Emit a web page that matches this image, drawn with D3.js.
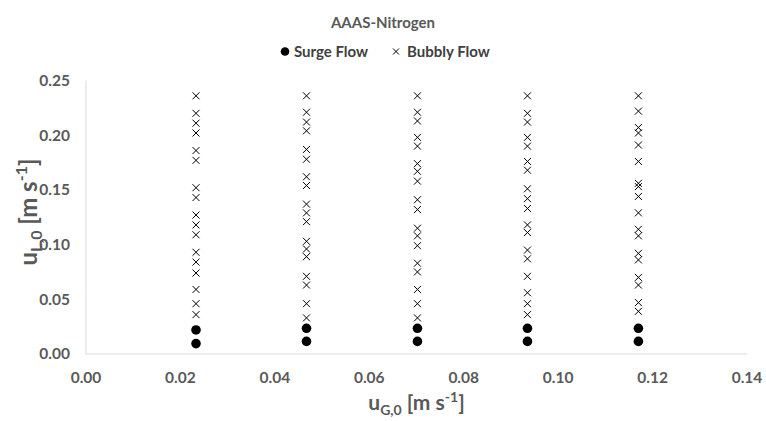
<!DOCTYPE html>
<html>
<head>
<meta charset="UTF-8" />
<title>AAAS-Nitrogen</title>
<script src="https://d3js.org/d3.v7.min.js"></script>
<style>
  body { margin: 0; background: #fff; }
  svg { display: block; font-family: "Lato", "Open Sans", sans-serif; }
</style>
</head>
<body>
<svg id="chart"></svg>
<script>
  // gas superficial velocity of each column [m/s]
  const ugCols = [0.0233, 0.0467, 0.0702, 0.0935, 0.117];

  // surge flow points (liquid velocity) per column
  const surge1 = [0.022, 0.0095];
  const surge2 = [0.0235, 0.0115];
  const surge3 = [0.0235, 0.0115];
  const surge4 = [0.0235, 0.0115];
  const surge5 = [0.0235, 0.0115];

  // bubbly flow points per column
  const bubbly1 = [0.236, 0.220, 0.211, 0.202, 0.186, 0.177, 0.152, 0.143, 0.127, 0.118, 0.109, 0.093, 0.084, 0.074, 0.059, 0.046, 0.036];
  const bubbly2 = [0.236, 0.221, 0.212, 0.204, 0.187, 0.178, 0.162, 0.154, 0.137, 0.129, 0.121, 0.103, 0.096, 0.089, 0.071, 0.063, 0.046, 0.033];
  const bubbly3 = [0.236, 0.221, 0.213, 0.198, 0.190, 0.174, 0.167, 0.158, 0.141, 0.132, 0.115, 0.108, 0.099, 0.083, 0.075, 0.059, 0.046, 0.033];
  const bubbly4 = [0.236, 0.220, 0.212, 0.198, 0.190, 0.176, 0.168, 0.151, 0.142, 0.133, 0.118, 0.111, 0.095, 0.087, 0.071, 0.056, 0.046, 0.036];
  const bubbly5 = [0.236, 0.222, 0.207, 0.202, 0.191, 0.176, 0.156, 0.153, 0.144, 0.129, 0.114, 0.108, 0.092, 0.086, 0.070, 0.063, 0.047, 0.039];

  const xTicks = [0, 0.02, 0.04, 0.06, 0.08, 0.10, 0.12, 0.14];
  const yTicks = [0, 0.05, 0.10, 0.15, 0.20, 0.25];

  const surgeSets = [surge1, surge2, surge3, surge4, surge5];
  const bubblySets = [bubbly1, bubbly2, bubbly3, bubbly4, bubbly5];

  const surgePts = [];
  surgeSets.forEach((s, i) => s.forEach(v => surgePts.push({ x: ugCols[i], y: v })));
  const bubblyPts = [];
  bubblySets.forEach((s, i) => s.forEach(v => bubblyPts.push({ x: ugCols[i], y: v })));

  const width = 766, height = 421;
  const margin = { top: 80.5, right: 19, bottom: 67, left: 86 };

  const svg = d3.select("#chart")
    .attr("width", width)
    .attr("height", height);

  const x = d3.scaleLinear().domain([0, 0.14]).range([margin.left, width - margin.right]);
  const y = d3.scaleLinear().domain([0, 0.25]).range([height - margin.bottom, margin.top]);

  // axes lines
  svg.append("line")
    .attr("x1", x(0)).attr("x2", x(0.14))
    .attr("y1", y(0)).attr("y2", y(0))
    .attr("stroke", "#d9d9d9").attr("stroke-width", 1);
  svg.append("line")
    .attr("x1", x(0)).attr("x2", x(0))
    .attr("y1", y(0)).attr("y2", y(0.25))
    .attr("stroke", "#d9d9d9").attr("stroke-width", 1);

  // tick labels
  svg.append("g").selectAll("text")
    .data(xTicks)
    .enter().append("text")
    .attr("x", d => x(d))
    .attr("y", y(0) + 29)
    .attr("text-anchor", "middle")
    .attr("font-size", 15.5)
    .attr("font-weight", 700)
    .attr("fill", "#595959")
    .text(d => d3.format(".2f")(d));

  svg.append("g").selectAll("text")
    .data(yTicks)
    .enter().append("text")
    .attr("x", x(0) - 16)
    .attr("y", d => y(d))
    .attr("dy", "0.35em")
    .attr("text-anchor", "end")
    .attr("font-size", 15.5)
    .attr("font-weight", 700)
    .attr("fill", "#595959")
    .text(d => d3.format(".2f")(d));

  // markers
  const crossPath = "M-3.5,-3.5L3.5,3.5M-3.5,3.5L3.5,-3.5";

  svg.append("g").selectAll("path")
    .data(bubblyPts)
    .enter().append("path")
    .attr("d", crossPath)
    .attr("transform", d => `translate(${x(d.x)},${y(d.y)})`)
    .attr("stroke", "#000")
    .attr("stroke-width", 1)
    .attr("fill", "none");

  svg.append("g").selectAll("circle")
    .data(surgePts)
    .enter().append("circle")
    .attr("cx", d => x(d.x))
    .attr("cy", d => y(d.y))
    .attr("r", 4.8)
    .attr("fill", "#000");

  // title
  svg.append("text")
    .attr("x", width / 2)
    .attr("y", 28)
    .attr("text-anchor", "middle")
    .attr("font-size", 15)
    .attr("font-weight", 700)
    .attr("fill", "#595959")
    .text("AAAS-Nitrogen");

  // legend
  const legend = svg.append("g").attr("transform", "translate(0,51.5)");
  legend.append("circle").attr("cx", 285).attr("cy", 0).attr("r", 4.3).attr("fill", "#000");
  legend.append("text").attr("x", 294).attr("y", 5)
    .attr("font-size", 15).attr("font-weight", 700).attr("fill", "#404040")
    .text("Surge Flow");
  legend.append("path").attr("d", "M-3,-3L3,3M-3,3L3,-3")
    .attr("transform", "translate(396,0)")
    .attr("stroke", "#000").attr("stroke-width", 1);
  legend.append("text").attr("x", 407).attr("y", 5)
    .attr("font-size", 15).attr("font-weight", 700).attr("fill", "#404040")
    .text("Bubbly Flow");

  // x axis title
  const xt = svg.append("text")
    .attr("x", (x(0) + x(0.14)) / 2)
    .attr("y", 410)
    .attr("text-anchor", "middle")
    .attr("font-size", 21)
    .attr("font-weight", 700)
    .attr("fill", "#595959");
  xt.append("tspan").text("u");
  xt.append("tspan").attr("font-size", 14).attr("dy", 5).text("G,0");
  xt.append("tspan").attr("dy", -5).text(" [m s");
  xt.append("tspan").attr("font-size", 14).attr("dy", -8).text("-1");
  xt.append("tspan").attr("dy", 8).text("]");

  // y axis title
  const yt = svg.append("text")
    .attr("transform", `translate(37,212) rotate(-90)`)
    .attr("text-anchor", "middle")
    .attr("font-size", 24)
    .attr("font-weight", 700)
    .attr("fill", "#595959");
  yt.append("tspan").text("u");
  yt.append("tspan").attr("font-size", 16).attr("dy", 5).text("L,0");
  yt.append("tspan").attr("dy", -5).text(" [m s");
  yt.append("tspan").attr("font-size", 16).attr("dy", -10).text("-1");
  yt.append("tspan").attr("dy", 10).text("]");
</script>
</body>
</html>
